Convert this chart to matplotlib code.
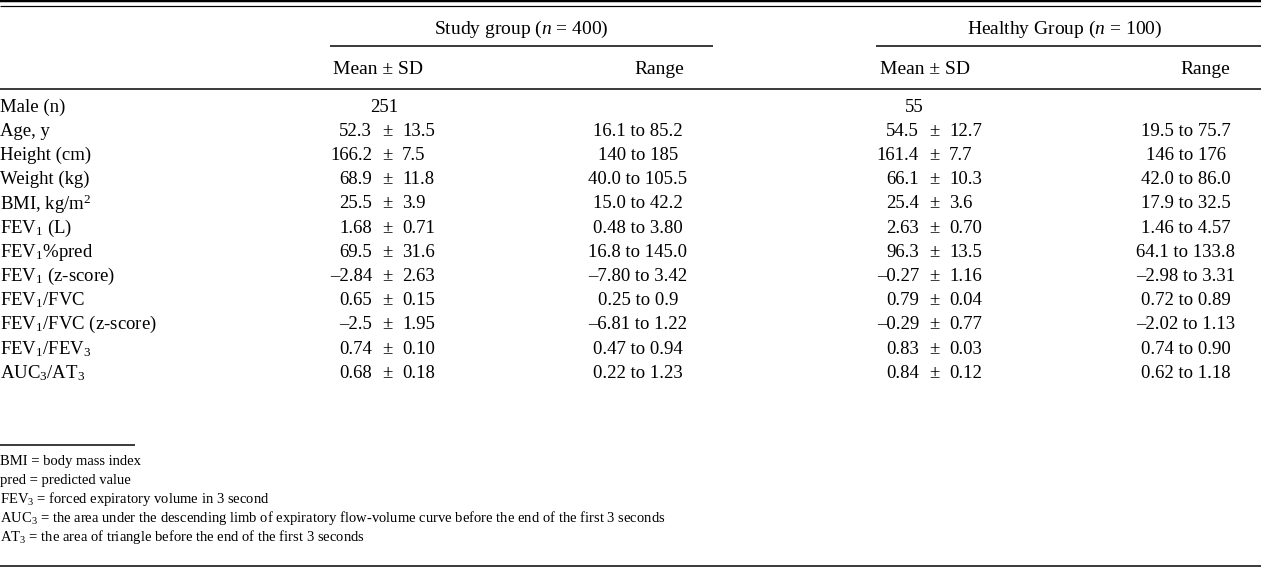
import matplotlib
matplotlib.use("Agg")
import matplotlib.pyplot as plt

plt.rcParams["font.family"] = ["Liberation Serif", "DejaVu Serif"]
plt.rcParams["mathtext.fontset"] = "custom"
plt.rcParams["mathtext.rm"] = "Liberation Serif"
plt.rcParams["mathtext.it"] = "Liberation Serif:italic"
plt.rcParams["mathtext.bf"] = "Liberation Serif:bold"

# --- table data ---
groups = [r"Study group ($n$ = 400)", r"Healthy Group ($n$ = 100)"]
col_heads = ["Mean ± SD", "Range"]

row_labels = [
    "Male (n)", "Age, y", "Height (cm)", "Weight (kg)", r"BMI, kg/m$^{2}$",
    r"FEV$_{1}$ (L)", r"FEV$_{1}$%pred", r"FEV$_{1}$ (z-score)", r"FEV$_{1}$/FVC",
    r"FEV$_{1}$/FVC (z-score)", r"FEV$_{1}$/FEV$_{3}$", r"AUC$_{3}$/AT$_{3}$",
]

male_counts = ["251", "55"]

study_mean = ["52.3", "166.2", "68.9", "25.5", "1.68", "69.5", "–2.84", "0.65", "–2.5", "0.74", "0.68"]
study_sd = ["13.5", "7.5", "11.8", "3.9", "0.71", "31.6", "2.63", "0.15", "1.95", "0.10", "0.18"]
study_lo = ["16.1", "140", "40.0", "15.0", "0.48", "16.8", "–7.80", "0.25", "–6.81", "0.47", "0.22"]
study_hi = ["85.2", "185", "105.5", "42.2", "3.80", "145.0", "3.42", "0.9", "1.22", "0.94", "1.23"]

healthy_mean = ["54.5", "161.4", "66.1", "25.4", "2.63", "96.3", "–0.27", "0.79", "–0.29", "0.83", "0.84"]
healthy_sd = ["12.7", "7.7", "10.3", "3.6", "0.70", "13.5", "1.16", "0.04", "0.77", "0.03", "0.12"]
healthy_lo = ["19.5", "146", "42.0", "17.9", "1.46", "64.1", "–2.98", "0.72", "–2.02", "0.74", "0.62"]
healthy_hi = ["75.7", "176", "86.0", "32.5", "4.57", "133.8", "3.31", "0.89", "1.13", "0.90", "1.18"]

footnotes = [
    "BMI = body mass index",
    "pred = predicted value",
    r"FEV$_{3}$ = forced expiratory volume in 3 second",
    r"AUC$_{3}$ = the area under the descending limb of expiratory flow-volume curve before the end of the first 3 seconds",
    r"AT$_{3}$ = the area of triangle before the end of the first 3 seconds",
]

# --- layout (pixel coordinates) ---
W, H = 1261, 569
fs = 13.5
fs_head = 14
fs_note = 10.5
px = 0.72  # one pixel in points

fig = plt.figure(figsize=(W / 100, H / 100), dpi=100)
ax = fig.add_axes([0, 0, 1, 1])
ax.set_xlim(0, W)
ax.set_ylim(H, 0)
ax.axis("off")

def hline(y, x0, x1, lw):
    ax.plot([x0, x1], [y, y], color="black", lw=lw * px, solid_capstyle="butt")

hline(1.2, 0, W, 2.5)
hline(5.5, 0, W, 1.2)
hline(46, 330, 713, 1.5)
hline(46, 876, W, 1.5)
hline(89, 0, W, 1.5)
hline(445, 0, 135, 1.5)
hline(566, 0, W, 1.5)

group_cx = [521, 1065]
mean_left = [333, 880]
range_head_cx = [659, 1205]
pm_cx = [387, 934]
range_cx = [638, 1186]
male_cx = [384, 914]

for g in range(2):
    ax.text(group_cx[g], 29, groups[g], fontsize=fs_head, ha="center", va="center")
    ax.text(mean_left[g], 69, col_heads[0], fontsize=fs_head, ha="left", va="center")
    ax.text(range_head_cx[g], 69, col_heads[1], fontsize=fs_head, ha="center", va="center")

y0, dy = 107, 24.2
for i, lab in enumerate(row_labels):
    ax.text(0, y0 + i * dy, lab, fontsize=fs, ha="left", va="center")

for g in range(2):
    ax.text(male_cx[g], y0, male_counts[g], fontsize=fs, ha="center", va="center")

cols = [(study_mean, study_sd, study_lo, study_hi), (healthy_mean, healthy_sd, healthy_lo, healthy_hi)]
for g, (means, sds, los, his) in enumerate(cols):
    for j in range(len(means)):
        y = y0 + (j + 1) * dy
        ax.text(pm_cx[g] - 15, y, means[j], fontsize=fs, ha="right", va="center")
        ax.text(pm_cx[g], y, "±", fontsize=fs, ha="center", va="center")
        ax.text(pm_cx[g] + 15, y, sds[j], fontsize=fs, ha="left", va="center")
        ax.text(range_cx[g], y, f"{los[j]} to {his[j]}", fontsize=fs, ha="center", va="center")

for k, note in enumerate(footnotes):
    ax.text(0, 461 + k * 19, note, fontsize=fs_note, ha="left", va="center")

fig.savefig("out.png", dpi=100)
